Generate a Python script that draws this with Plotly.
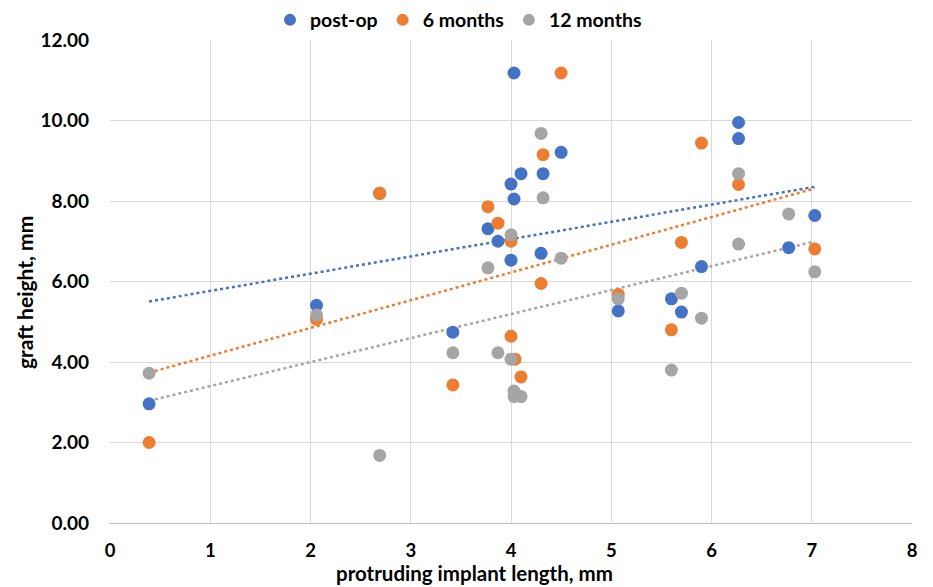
import numpy as np
import plotly.graph_objects as go

# ---- data ----
postop_x = [0.39, 2.06, 2.69, 3.42, 3.77, 3.87, 4.00, 4.00, 4.03, 4.03, 4.10, 4.30, 4.32, 4.50,
            5.07, 5.60, 5.70, 5.90, 6.27, 6.27, 6.77, 7.03]
postop_y = [2.96, 5.41, 8.19, 4.74, 7.31, 7.00, 8.42, 6.53, 11.18, 8.05, 8.68, 6.70, 8.68, 9.21,
            5.27, 5.57, 5.24, 6.37, 9.95, 9.55, 6.84, 7.64]

m6_x = [0.39, 2.06, 2.69, 3.42, 3.77, 3.87, 4.00, 4.00, 4.04, 4.10, 4.30, 4.32, 4.50,
        5.07, 5.60, 5.70, 5.90, 6.27, 7.03]
m6_y = [2.00, 5.06, 8.19, 3.43, 7.86, 7.45, 7.00, 4.64, 4.07, 3.63, 5.95, 9.15, 11.18,
        5.68, 4.80, 6.97, 9.44, 8.41, 6.81]

m12_x = [0.39, 2.06, 2.69, 3.42, 3.77, 3.87, 4.00, 4.00, 4.03, 4.03, 4.10, 4.30, 4.32, 4.50,
         5.07, 5.60, 5.70, 5.90, 6.27, 6.27, 6.77, 7.03]
m12_y = [3.72, 5.17, 1.68, 4.23, 6.34, 4.23, 7.16, 4.07, 3.28, 3.14, 3.14, 9.68, 8.08, 6.58,
         5.57, 3.80, 5.71, 5.09, 8.68, 6.93, 7.68, 6.24]

series_names = ["post-op", "6 months", "12 months"]
series_colors = ["#4472C4", "#ED7D31", "#A5A5A5"]
x_ticks = [0, 1, 2, 3, 4, 5, 6, 7, 8]
y_ticks = [0, 2, 4, 6, 8, 10, 12]
x_title = "protruding implant length, mm"
y_title = "graft height, mm"

FONT = "Lato, 'Open Sans', Arial, sans-serif"

fig = go.Figure()
all_series = [(postop_x, postop_y), (m6_x, m6_y), (m12_x, m12_y)]

# trend lines (linear fit) drawn first
for (xs, ys), name, col in zip(all_series, series_names, series_colors):
    xa = np.array(xs); ya = np.array(ys)
    k, b = np.polyfit(xa, ya, 1)
    xl = np.array([xa.min(), xa.max()])
    fig.add_trace(go.Scatter(x=xl, y=k * xl + b, mode="lines",
                             line=dict(color=col, width=2.5, dash="dot"),
                             showlegend=False, hoverinfo="skip"))

for (xs, ys), name, col in zip(all_series, series_names, series_colors):
    fig.add_trace(go.Scatter(x=xs, y=ys, mode="markers", name=name,
                             marker=dict(color=col, size=13, line=dict(width=0))))

# page body has an 8px default margin, so offsets compensate for it
fig.update_layout(
    width=933, height=587,
    margin=dict(l=102, r=29, t=32, b=72, autoexpand=False),
    paper_bgcolor="white", plot_bgcolor="white",
    font=dict(family=FONT, size=16, color="#000000"),
    showlegend=True,
    legend=dict(orientation="h", x=0.1995, xanchor="left", y=1.041, yanchor="middle",
                font=dict(family=FONT, size=19.5, color="#000000", weight="bold"),
                itemsizing="constant", traceorder="normal", itemwidth=30,
                bgcolor="rgba(0,0,0,0)"),
    annotations=[
        dict(text=x_title, xref="paper", yref="paper", x=0.455, y=-0.1035,
             xanchor="center", yanchor="middle", showarrow=False,
             font=dict(family=FONT, size=20.5, weight="bold", color="#000000")),
        dict(text=y_title, xref="paper", yref="paper", x=-0.1072, y=0.476,
             xanchor="center", yanchor="middle", showarrow=False, textangle=-90,
             font=dict(family=FONT, size=21, weight="bold", color="#000000")),
    ],
)
fig.update_xaxes(range=[0, 8], tickvals=x_ticks, ticktext=[str(v) for v in x_ticks],
                 showgrid=True, gridcolor="#D9D9D9", gridwidth=1, automargin=False,
                 zeroline=False, showline=True, linecolor="#BFBFBF", linewidth=1,
                 ticks="", ticklabelstandoff=11,
                 tickfont=dict(family=FONT, size=18.5, weight="bold"))
fig.update_yaxes(range=[0, 12], tickvals=y_ticks, ticktext=[f"{v:.2f}" for v in y_ticks],
                 showgrid=True, gridcolor="#D9D9D9", gridwidth=1, automargin=False,
                 zeroline=False, showline=False,
                 ticks="", ticklabelstandoff=20,
                 tickfont=dict(family=FONT, size=19, weight="bold"))

fig.write_html("out.html")
